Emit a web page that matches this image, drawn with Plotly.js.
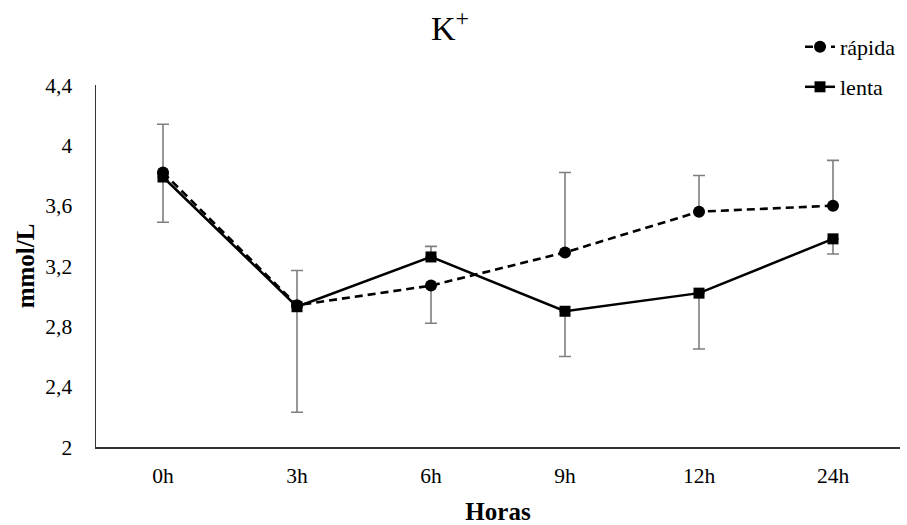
<!DOCTYPE html>
<html>
<head>
<meta charset="utf-8">
<script src="https://cdn.plot.ly/plotly-3.0.1.min.js"></script>
<style>html,body{margin:0;padding:0;background:#fff;}#chart{width:907px;height:525px;}</style>
</head>
<body>
<div id="chart"></div>
<script>
const categories = ["0h", "3h", "6h", "9h", "12h", "24h"];
const rapida = [3.82, 2.94, 3.07, 3.29, 3.56, 3.60];
const lenta = [3.79, 2.93, 3.26, 2.90, 3.02, 3.38];
const rapidaErrPlus = [0.32, 0.23, 0, 0.53, 0.24, 0.30];
const rapidaErrMinus = [0, 0, 0.25, 0, 0, 0];
const lentaErrPlus = [0, 0, 0.07, 0, 0, 0];
const lentaErrMinus = [0.30, 0.70, 0, 0.30, 0.37, 0.10];

const serif = "Liberation Serif";
const errStyle = {type: "data", symmetric: false, color: "#7f7f7f", thickness: 1.6, width: 6};

const traces = [
  {
    x: categories, y: lenta, name: "lenta", type: "scatter", mode: "lines+markers",
    line: {color: "#000", width: 2.5},
    marker: {symbol: "square", size: 11, color: "#000"},
    error_y: Object.assign({array: lentaErrPlus, arrayminus: lentaErrMinus}, errStyle),
    legend: "legend2"
  },
  {
    x: categories, y: rapida, name: "rápida", type: "scatter", mode: "lines+markers",
    line: {color: "#000", width: 2.6, dash: "8px,5px"},
    marker: {symbol: "circle", size: 12, color: "#000"},
    error_y: Object.assign({array: rapidaErrPlus, arrayminus: rapidaErrMinus}, errStyle),
    legend: "legend"
  }
];

const layout = {
  width: 907, height: 525,
  margin: {l: 96, r: 7, t: 85, b: 78, autoexpand: false},
  paper_bgcolor: "#fff", plot_bgcolor: "#fff",
  separators: ",.",
  font: {family: serif, size: 21, color: "#000"},
  title: {text: "K<sup>+</sup>", font: {family: serif, size: 34, color: "#000"},
          x: 450/907, xanchor: "center", xref: "container", y: 1 - 28/525, yanchor: "middle", yref: "container"},
  showlegend: true,
  legend: {x: 800/907, xref: "container", xanchor: "left", y: 1 - 47/525, yref: "container", yanchor: "middle",
           bgcolor: "rgba(0,0,0,0)", font: {family: serif, size: 22, color: "#000"}},
  legend2: {x: 800/907, xref: "container", xanchor: "left", y: 1 - 87/525, yref: "container", yanchor: "middle",
           bgcolor: "rgba(0,0,0,0)", font: {family: serif, size: 22, color: "#000"}},
  xaxis: {
    type: "category", range: [-0.5, 5.5], showgrid: false, zeroline: false,
    showline: true, linecolor: "#333", linewidth: 1.5, ticks: "",
    ticklabelstandoff: 9,
    tickfont: {family: serif, size: 21.5, color: "#000"},
    title: {text: "<b>Horas</b>", font: {family: serif, size: 25, color: "#000"}, standoff: 15}
  },
  yaxis: {
    range: [2, 4.4], tick0: 2, dtick: 0.4, showgrid: false, zeroline: false,
    showline: true, linecolor: "#333", linewidth: 1.5, ticks: "",
    ticklabelstandoff: 18,
    tickfont: {family: serif, size: 21.5, color: "#000"},
    title: {text: "<b>mmol/L</b>", font: {family: serif, size: 25, color: "#000"}, standoff: 3}
  }
};

Plotly.newPlot("chart", traces, layout, {displayModeBar: false, staticPlot: true});
</script>
</body>
</html>
